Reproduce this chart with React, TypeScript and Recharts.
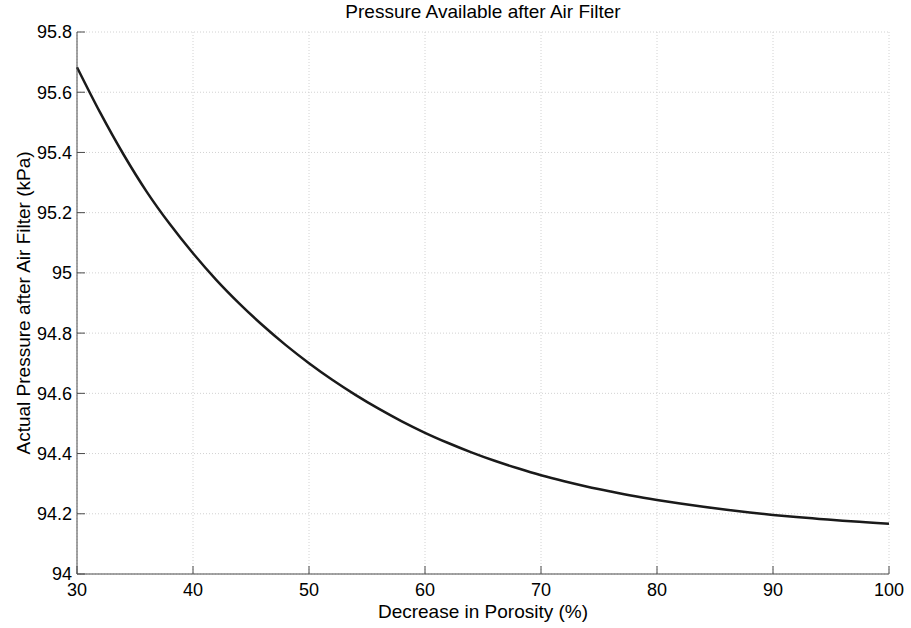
import { LineChart, Line, XAxis, YAxis, CartesianGrid } from "recharts"

// ── Data ─────────────────────────────────────────────────────────────────────
const porosity = [
  30, 32, 34, 36, 38, 40, 42, 44, 46, 48, 50, 52, 54, 56, 58, 60, 62, 64, 66, 68,
  70, 72, 74, 76, 78, 80, 82, 84, 86, 88, 90, 92, 94, 96, 98, 100,
]
const pressure = [
  95.683, 95.532, 95.394, 95.27, 95.162, 95.065, 94.977, 94.898, 94.826, 94.76,
  94.7, 94.645, 94.595, 94.549, 94.507, 94.469, 94.435, 94.404, 94.376, 94.351,
  94.328, 94.308, 94.29, 94.274, 94.259, 94.246, 94.234, 94.223, 94.213, 94.204,
  94.196, 94.189, 94.183, 94.177, 94.172, 94.167,
]
const xTicks = [30, 40, 50, 60, 70, 80, 90, 100]
const yTicks = [94, 94.2, 94.4, 94.6, 94.8, 95, 95.2, 95.4, 95.6, 95.8]

const data = porosity.map((x, i) => ({ x, p: pressure[i] }))

const FONT = '"Liberation Sans", Arial, Helvetica, sans-serif'
const AXIS = "#4a4a4a"
const tickStyle = { fill: "#000", fontSize: 18, fontFamily: FONT }
const labelStyle = { fill: "#000", fontSize: 19, fontFamily: FONT }
const noLabel = () => <g />

export default function App() {
  return (
    <div style={{ position: "absolute", left: 0, top: 0, width: 911, height: 628, background: "#fff", fontFamily: FONT }}>
      <div
        style={{
          position: "absolute",
          left: 77,
          width: 812,
          top: 1,
          textAlign: "center",
          fontSize: 19,
          color: "#000",
          lineHeight: "normal",
        }}
      >
        Pressure Available after Air Filter
      </div>
      <LineChart width={911} height={628} data={data} margin={{ top: 32, right: 22, bottom: 0, left: 0 }}>
        <CartesianGrid stroke="#d2d2d2" strokeDasharray="1 2" />
        <XAxis
          dataKey="x"
          type="number"
          domain={[30, 100]}
          ticks={xTicks}
          height={54}
          tickSize={-8}
          tickMargin={17}
          stroke={AXIS}
          tick={tickStyle}
          label={{ value: "Decrease in Porosity (%)", position: "insideBottom", offset: 10, style: labelStyle }}
        />
        <XAxis
          xAxisId="top"
          orientation="top"
          dataKey="x"
          type="number"
          domain={[30, 100]}
          ticks={xTicks}
          height={0}
          tickSize={-8}
          stroke={AXIS}
          tick={noLabel}
        />
        <YAxis
          type="number"
          domain={[94, 95.8]}
          ticks={yTicks}
          width={77}
          tickSize={-8}
          tickMargin={13}
          stroke={AXIS}
          tick={tickStyle}
          label={{ value: "Actual Pressure after Air Filter (kPa)", angle: -90, position: "center", dx: -15, style: { ...labelStyle, textAnchor: "middle" } }}
        />
        <YAxis
          yAxisId="right"
          orientation="right"
          type="number"
          domain={[94, 95.8]}
          ticks={yTicks}
          width={0}
          tickSize={-8}
          stroke={AXIS}
          tick={noLabel}
        />
        <Line
          type="monotone"
          dataKey="p"
          stroke="#1a1a1a"
          strokeWidth={2.5}
          dot={false}
          activeDot={false}
          isAnimationActive={false}
        />
      </LineChart>
    </div>
  )
}
